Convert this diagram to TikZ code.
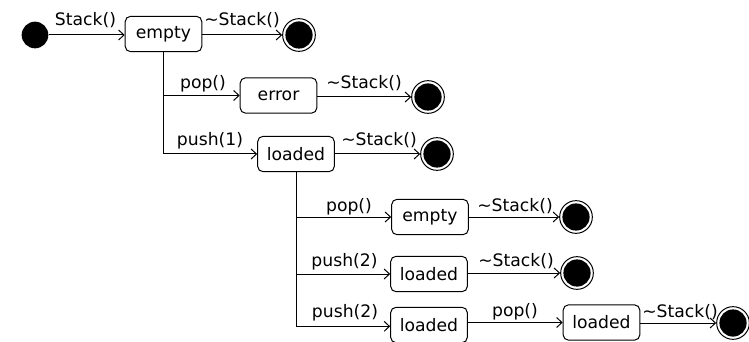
\documentclass[tikz,border=0pt]{standalone}
\usepackage{fontspec}
\setmainfont{DejaVu Sans}
\usetikzlibrary{arrows.meta}
\begin{document}
\begin{tikzpicture}[x=0.75pt,y=-0.75pt,
  every node/.style={font=\fontsize{12.9}{15}\selectfont, inner sep=0pt},
  statebox/.style={draw, line width=0.75pt, rounded corners=4pt,
    minimum width=57.5pt, minimum height=26.5pt},
  initstate/.style={circle, fill=black, minimum size=20pt},
  finalstate/.style={circle, draw, line width=0.75pt, minimum size=24.5pt,
    path picture={\fill[black] (path picture bounding box.center) circle (10.2pt);}},
  trans/.style={draw, line width=0.75pt, -{Straight Barb[length=4pt,width=7.5pt]}},
  lbl/.style={}]
\useasboundingbox (0,0) rectangle (749,342);

% states
\node[initstate]  (init) at (35,35) {};
\node[statebox]   (e1)   at (163.5,34) {empty};
\node[finalstate] (f1)   at (299,35) {};
\node[statebox]   (err)  at (278.5,95.5) {error};
\node[finalstate] (f2)   at (428,97) {};
\node[statebox]   (l1)   at (296,154) {loaded};
\node[finalstate] (f3)   at (437,154) {};
\node[statebox]   (e2)   at (430,217) {empty};
\node[finalstate] (f4)   at (576,217) {};
\node[statebox]   (l2)   at (429,274) {loaded};
\node[finalstate] (f5)   at (577,273) {};
\node[statebox]   (l3)   at (429,325) {loaded};
\node[statebox]   (l4)   at (601.5,322.5) {loaded};
\node[finalstate] (f6)   at (733,323) {};

% transitions
\path[trans] (init) -- (e1.west |- init);
\path[trans] (e1.east |- f1) -- (f1);
\path[trans] (e1.south) |- (l1.west);
\path[trans] (e1.south |- err) -- (err.west);
\path[trans] (err.east |- f2) -- (f2);
\path[trans] (l1.east) -- (f3);
\path[trans] (l1.south) |- ([yshift=-1pt]l3.west);
\path[trans] (l1.south |- e2) -- (e2.west);
\path[trans] (l1.south |- l2) -- (l2.west);
\path[trans] (e2.east) -- (f4);
\path[trans] (l2.east |- f5) -- (f5);
\path[trans] (l3.east |- l4) -- (l4.west);
\path[trans] (l4.east |- f6) -- (f6);

% transition labels
\node[lbl] (t1)  at (85.5,20) {Stack()};
\node[lbl] (t2)  at (242,20)  {\textasciitilde Stack()};
\node[lbl] (t3)  at (203,84)  {pop()};
\node[lbl] (t4)  at (364,83)  {\textasciitilde Stack()};
\node[lbl] (t5)  at (210,141) {push(1)};
\node[lbl] (t6)  at (379,140) {\textasciitilde Stack()};
\node[lbl] (t7)  at (349,207) {pop()};
\node[lbl] (t8)  at (515,206) {\textasciitilde Stack()};
\node[lbl] (t9)  at (344.5,262) {push(2)};
\node[lbl] (t10) at (516,261) {\textasciitilde Stack()};
\node[lbl] (t11) at (345,313) {push(2)};
\node[lbl] (t12) at (515,312) {pop()};
\node[lbl] (t13) at (680,312) {\textasciitilde Stack()};
\end{tikzpicture}
\end{document}
